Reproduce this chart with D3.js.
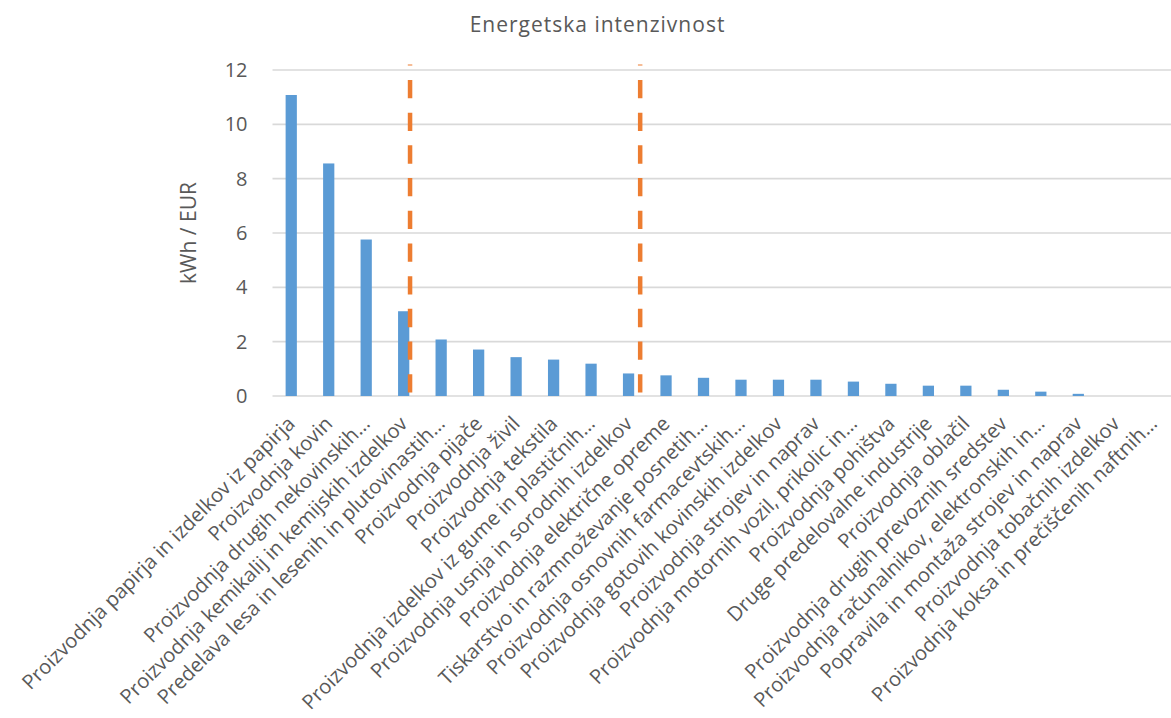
<!DOCTYPE html>
<html>
<head>
<meta charset="utf-8">
<script src="https://cdn.jsdelivr.net/npm/d3@7"></script>
<style>
  html, body { margin: 0; padding: 0; background: #ffffff; }
  svg { display: block; }
  text { font-family: "Open Sans", "Noto Sans", sans-serif; fill: #595959; }
</style>
</head>
<body>
<svg id="chart" width="1171" height="718"></svg>
<script>
// Industry sectors, sorted by energy intensity
const categories = [
  "Proizvodnja papirja in izdelkov iz papirja",
  "Proizvodnja kovin",
  "Proizvodnja drugih nekovinskih…",
  "Proizvodnja kemikalij in kemijskih izdelkov",
  "Predelava lesa in lesenih in plutovinastih…",
  "Proizvodnja pijače",
  "Proizvodnja živil",
  "Proizvodnja tekstila",
  "Proizvodnja izdelkov iz gume in plastičnih…",
  "Proizvodnja usnja in sorodnih izdelkov",
  "Proizvodnja električne opreme",
  "Tiskarstvo in razmnoževanje posnetih…",
  "Proizvodnja osnovnih farmacevtskih…",
  "Proizvodnja gotovih kovinskih izdelkov",
  "Proizvodnja strojev in naprav",
  "Proizvodnja motornih vozil, prikolic in…",
  "Proizvodnja pohištva",
  "Druge predelovalne industrije",
  "Proizvodnja oblačil",
  "Proizvodnja drugih prevoznih sredstev",
  "Proizvodnja računalnikov, elektronskih in…",
  "Popravila in montaža strojev in naprav",
  "Proizvodnja tobačnih izdelkov",
  "Proizvodnja koksa in prečiščenih naftnih…"
];

// Energy intensity, kWh per EUR
const values = [
  11.08, 8.56, 5.76, 3.12, 2.08, 1.71, 1.43, 1.34, 1.19, 0.83, 0.76, 0.67,
  0.60, 0.60, 0.60, 0.53, 0.45, 0.38, 0.38, 0.23, 0.16, 0.08, 0, 0
];

const yTicks = [0, 2, 4, 6, 8, 10, 12];

// Group boundaries, in category units along the x axis
const dividers = [3.67, 9.81];
const dividerTop = 12.2;

const titleText = "Energetska intenzivnost";
const yTitle = "kWh / EUR";

const svg = d3.select("#chart");

const plotLeft = 272.5, plotRight = 1172, plotTop = 70, plotBottom = 396;

const x = d3.scaleBand()
  .domain(categories)
  .range([plotLeft, plotRight])
  .paddingInner(0.7)
  .paddingOuter(0.35);

const xPos = d3.scaleLinear()
  .domain([0, categories.length])
  .range([plotLeft, plotRight]);

const y = d3.scaleLinear()
  .domain([0, 12])
  .range([plotBottom, plotTop]);

// Horizontal gridlines
svg.append("g")
  .selectAll("line")
  .data(yTicks)
  .join("line")
  .attr("x1", plotLeft)
  .attr("x2", 1171)
  .attr("y1", d => y(d))
  .attr("y2", d => y(d))
  .attr("stroke", "#d9d9d9")
  .attr("stroke-width", 1.6);

// Y axis labels
const yAxis = svg.append("g")
  .attr("transform", `translate(${plotLeft},0)`)
  .call(d3.axisLeft(y).tickValues(yTicks).tickSize(0).tickPadding(25).tickFormat(d3.format("d")));
yAxis.select(".domain").remove();
yAxis.selectAll("text")
  .attr("font-family", "Open Sans")
  .attr("font-size", 20)
  .attr("fill", "#595959");

// Bars
svg.append("g")
  .selectAll("rect")
  .data(values)
  .join("rect")
  .attr("x", (d, i) => x(categories[i]))
  .attr("width", x.bandwidth())
  .attr("y", d => y(d))
  .attr("height", d => y(0) - y(d))
  .attr("fill", "#5b9bd5");

// Dashed divider lines
svg.append("g")
  .selectAll("line")
  .data(dividers)
  .join("line")
  .attr("x1", d => xPos(d))
  .attr("x2", d => xPos(d))
  .attr("y1", y(dividerTop))
  .attr("y2", y(0))
  .attr("stroke", "#ed7d31")
  .attr("stroke-width", 4.5)
  .attr("stroke-dasharray", "18.3,14.4")
  .attr("stroke-dashoffset", 17.3);

// Category labels, rotated
const xAxis = svg.append("g")
  .attr("transform", `translate(0,${plotBottom})`)
  .call(d3.axisBottom(x).tickSize(0));
xAxis.select(".domain").remove();
xAxis.selectAll("text")
  .attr("font-family", "Open Sans")
  .attr("font-size", 20.2)
  .attr("fill", "#595959")
  .attr("text-anchor", "end")
  .attr("x", 0)
  .attr("y", 0)
  .attr("dy", "0.35em")
  .attr("transform", "translate(0,24) rotate(-45)");

// Title
svg.append("text")
  .attr("x", 597.5)
  .attr("y", 31.5)
  .attr("text-anchor", "middle")
  .attr("font-size", 21)
  .attr("letter-spacing", 1)
  .text(titleText);

// Y axis title
svg.append("text")
  .attr("transform", `translate(196,${(plotTop + plotBottom) / 2}) rotate(-90)`)
  .attr("text-anchor", "middle")
  .attr("font-size", 21)
  .text(yTitle);
</script>
</body>
</html>
